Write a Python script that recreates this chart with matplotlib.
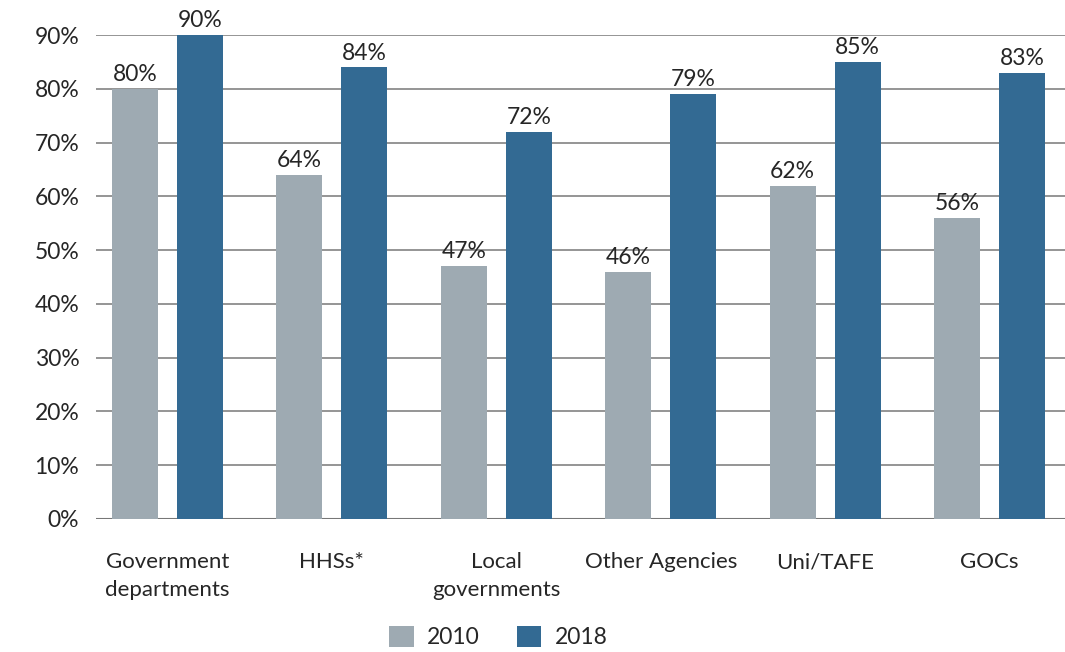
import numpy as np
import matplotlib
matplotlib.use("Agg")
import matplotlib.pyplot as plt

plt.rcParams['font.family'] = ['Lato', 'DejaVu Sans']

# Share of organisations, 2010 vs 2018
categories = ["Government\ndepartments", "HHSs*", "Local\ngovernments",
              "Other Agencies", "Uni/TAFE", "GOCs"]
vals_2010 = [80, 64, 47, 46, 62, 56]
vals_2018 = [90, 84, 72, 79, 85, 83]
yticks = [0, 10, 20, 30, 40, 50, 60, 70, 80, 90]

gray = '#9eaab2'
blue = '#336a93'
text_color = '#262626'

fig = plt.figure(figsize=(10.65, 6.52), dpi=100)
ax = fig.add_axes([0.0901, 0.204, 0.9099, 0.7423])

x = np.arange(len(categories))
w = 0.28
off = 0.198
b1 = ax.bar(x - off, vals_2010, w, color=gray, label='2010', zorder=2)
b2 = ax.bar(x + off, vals_2018, w, color=blue, label='2018', zorder=2)

for bars, vals in [(b1, vals_2010), (b2, vals_2018)]:
    for rect, v in zip(bars, vals):
        ax.text(rect.get_x() + rect.get_width() / 2, v + 0.7, f"{v}%",
                ha='center', va='bottom', fontsize=16.5, color=text_color,
                clip_on=False)

ax.set_ylim(0, 90)
ax.set_xlim(-0.435, 5.459)
ax.set_yticks(yticks)
ax.set_yticklabels([f"{t}%" for t in yticks])
ax.yaxis.grid(True, color='#8c8c8c', linewidth=1.3, zorder=0)
ax.set_axisbelow(True)
for s in ax.spines.values():
    s.set_visible(False)
ax.axhline(0, color='#777777', linewidth=1.5, zorder=1)

ax.set_xticks(x)
ax.set_xticklabels(categories, linespacing=1.5)
ax.tick_params(axis='x', length=0, pad=24, labelsize=16, labelcolor=text_color)
ax.tick_params(axis='y', length=0, pad=12, labelsize=16.5, labelcolor=text_color)

fig.legend(handles=[b1, b2], labels=['2010', '2018'], loc='center', ncol=2,
           bbox_to_anchor=(0.468, 0.023), frameon=False, fontsize=16.5,
           handlelength=1.05, handleheight=1.05, columnspacing=1.6,
           handletextpad=0.6, labelcolor=text_color)

fig.savefig('out.png', dpi=100)
